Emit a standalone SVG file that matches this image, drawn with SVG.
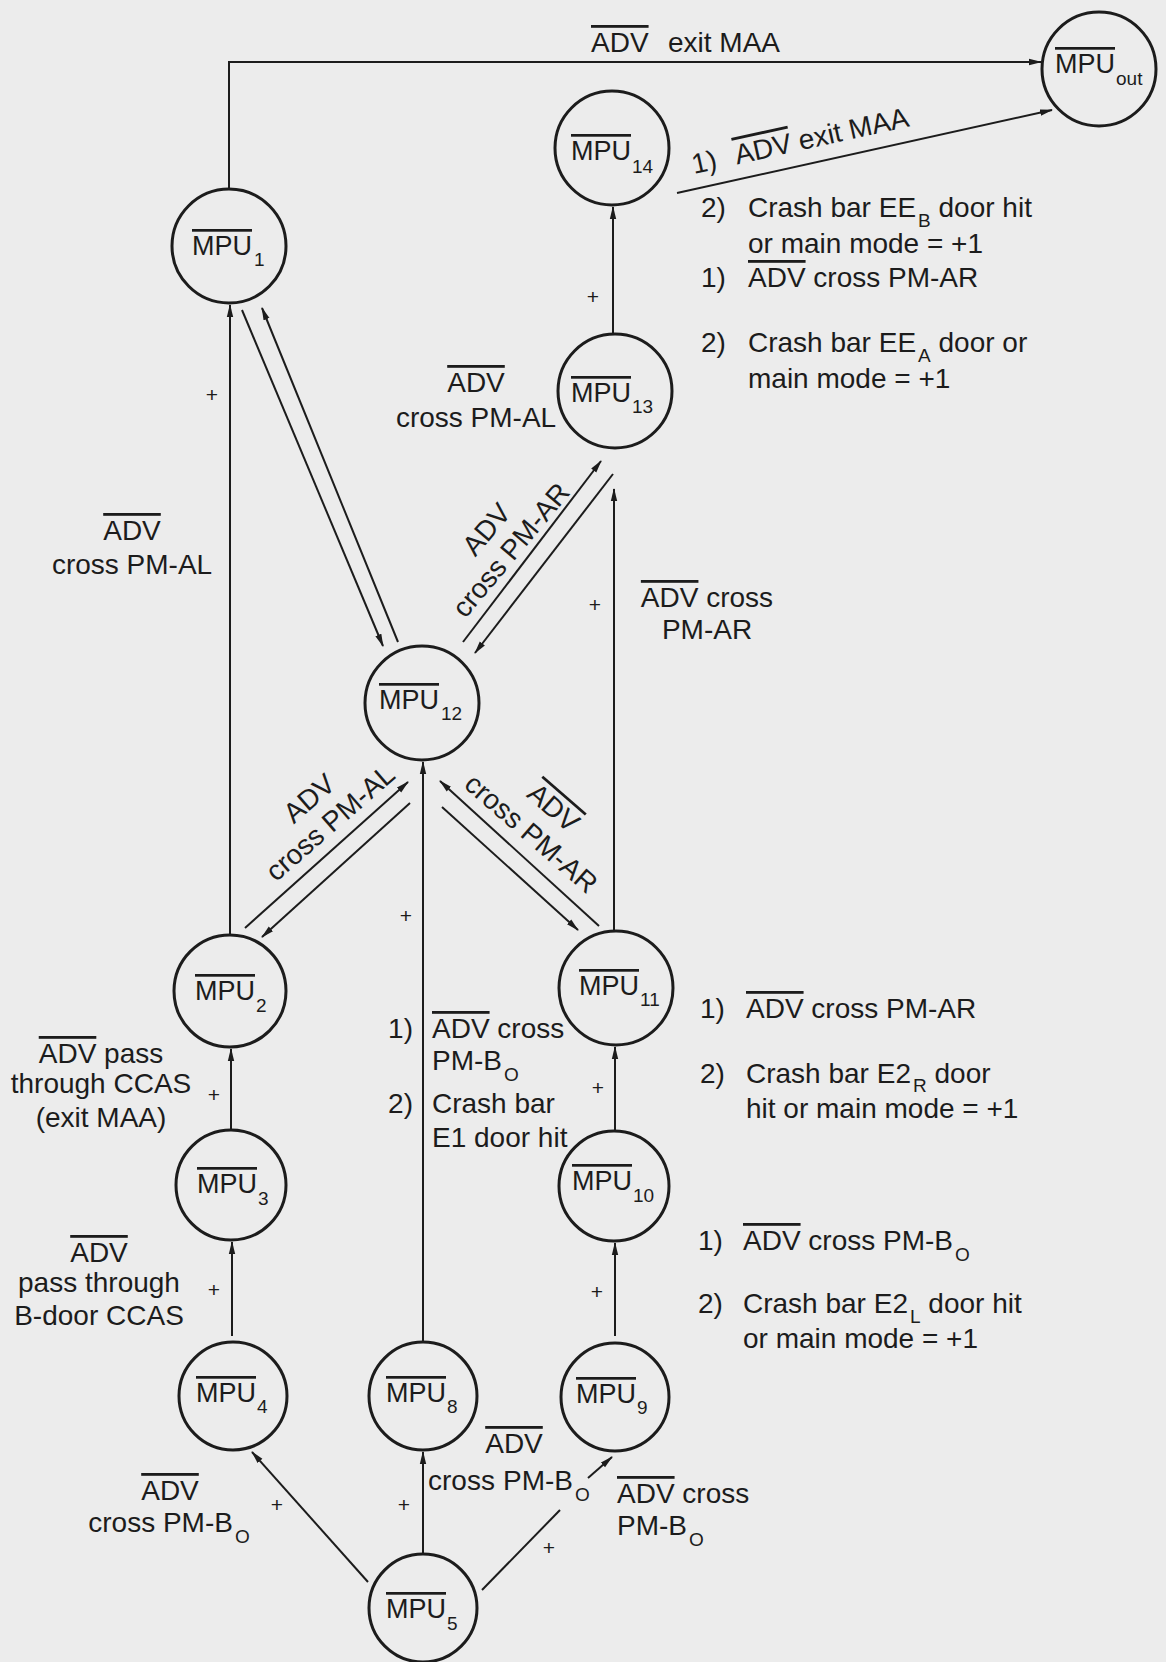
<svg xmlns="http://www.w3.org/2000/svg" width="1166" height="1662" viewBox="0 0 1166 1662">
<defs>
<style>
.bg{fill:#ececec}
.node circle{fill:none;stroke:#1c1c1c;stroke-width:3}
#connectors path{fill:none;stroke:#1c1c1c;stroke-width:2}
text{font-family:"Liberation Sans",Arial,sans-serif;font-size:28px;fill:#1c1c1c}
.node text{font-size:27px}
.s{font-size:19px}
.node .s{font-size:19px}
.ob{text-decoration:overline}
.m{text-anchor:middle}
.e{text-anchor:end}
.p{font-size:21px;text-anchor:middle}
</style>
<marker id="ah" markerWidth="13" markerHeight="8" refX="12" refY="4" orient="auto" markerUnits="userSpaceOnUse">
<path d="M0,0.8 L13,4 L0,7.2 z" fill="#1c1c1c"/>
</marker>
</defs>
<rect class="bg" x="0" y="0" width="1166" height="1662"/>

<g id="connectors">
<path d="M229,189 V62 H1041" marker-end="url(#ah)"/>
<path d="M677,193 L1052,110" marker-end="url(#ah)"/>
<path d="M613,334 V207" marker-end="url(#ah)"/>
<path d="M230,935 V305" marker-end="url(#ah)"/>
<path d="M242,310 L383,646" marker-end="url(#ah)"/>
<path d="M398,642 L262,308" marker-end="url(#ah)"/>
<path d="M463,642 L601,461" marker-end="url(#ah)"/>
<path d="M613,474 L475,653" marker-end="url(#ah)"/>
<path d="M614,931 V489" marker-end="url(#ah)"/>
<path d="M245,928 L408,782" marker-end="url(#ah)"/>
<path d="M410,803 L262,937" marker-end="url(#ah)"/>
<path d="M423,1342 V762" marker-end="url(#ah)"/>
<path d="M599,926 L440,781" marker-end="url(#ah)"/>
<path d="M442,807 L578,930" marker-end="url(#ah)"/>
<path d="M231,1130 V1049" marker-end="url(#ah)"/>
<path d="M615,1131 V1047" marker-end="url(#ah)"/>
<path d="M232,1336 V1242" marker-end="url(#ah)"/>
<path d="M615,1336 V1243" marker-end="url(#ah)"/>
<path d="M368,1582 L252,1452" marker-end="url(#ah)"/>
<path d="M423,1554 V1452" marker-end="url(#ah)"/>
<path d="M482,1590 L560,1510"/>
<path d="M588,1478 L612,1457" marker-end="url(#ah)"/>
</g>

<g id="plus">
<text class="p" x="212" y="402">+</text>
<text class="p" x="593" y="304">+</text>
<text class="p" x="595" y="612">+</text>
<text class="p" x="406" y="923">+</text>
<text class="p" x="214" y="1102">+</text>
<text class="p" x="598" y="1095">+</text>
<text class="p" x="214" y="1297">+</text>
<text class="p" x="597" y="1299">+</text>
<text class="p" x="277" y="1512">+</text>
<text class="p" x="404" y="1512">+</text>
<text class="p" x="549" y="1555">+</text>
</g>

<g id="n-out" class="node"><circle cx="1099" cy="69" r="57"/><text x="1055" y="73"><tspan class="ob">MPU</tspan><tspan class="s" dx="1" dy="12">out</tspan></text></g>
<g id="n14" class="node"><circle cx="612" cy="148" r="57"/><text x="571" y="160"><tspan class="ob">MPU</tspan><tspan class="s" dx="1" dy="13">14</tspan></text></g>
<g id="n1" class="node"><circle cx="229" cy="246" r="57"/><text x="192" y="255"><tspan class="ob">MPU</tspan><tspan class="s" dx="2" dy="11">1</tspan></text></g>
<g id="n13" class="node"><circle cx="615" cy="391" r="57"/><text x="571" y="402"><tspan class="ob">MPU</tspan><tspan class="s" dx="1" dy="11">13</tspan></text></g>
<g id="n12" class="node"><circle cx="422" cy="703" r="57"/><text x="379" y="709"><tspan class="ob">MPU</tspan><tspan class="s" dx="2" dy="11">12</tspan></text></g>
<g id="n2" class="node"><circle cx="230" cy="991" r="56"/><text x="195" y="1000"><tspan class="ob">MPU</tspan><tspan class="s" dx="1" dy="12">2</tspan></text></g>
<g id="n11" class="node"><circle cx="616" cy="988" r="57"/><text x="579" y="995"><tspan class="ob">MPU</tspan><tspan class="s" dx="1" dy="11">11</tspan></text></g>
<g id="n3" class="node"><circle cx="231" cy="1185" r="55"/><text x="197" y="1193"><tspan class="ob">MPU</tspan><tspan class="s" dx="1" dy="12">3</tspan></text></g>
<g id="n10" class="node"><circle cx="614" cy="1186" r="55"/><text x="572" y="1190"><tspan class="ob">MPU</tspan><tspan class="s" dx="1" dy="12">10</tspan></text></g>
<g id="n4" class="node"><circle cx="233" cy="1396" r="54"/><text x="196" y="1402"><tspan class="ob">MPU</tspan><tspan class="s" dx="1" dy="11">4</tspan></text></g>
<g id="n8" class="node"><circle cx="423" cy="1396" r="54"/><text x="386" y="1402"><tspan class="ob">MPU</tspan><tspan class="s" dx="1" dy="11">8</tspan></text></g>
<g id="n9" class="node"><circle cx="615" cy="1397" r="54"/><text x="576" y="1403"><tspan class="ob">MPU</tspan><tspan class="s" dx="1" dy="11">9</tspan></text></g>
<g id="n5" class="node"><circle cx="423" cy="1608" r="54"/><text x="386" y="1618"><tspan class="ob">MPU</tspan><tspan class="s" dx="1" dy="12">5</tspan></text></g>

<g id="labels">
<text x="591" y="52"><tspan class="ob">ADV</tspan></text>
<text x="668" y="52">exit MAA</text>

<g transform="translate(694,174) rotate(-12.5)">
<text x="0" y="0">1)</text>
<text x="44" y="0"><tspan class="ob">ADV</tspan> exit MAA</text>
</g>

<text x="701" y="217">2)</text>
<text x="748" y="217">Crash bar EE<tspan class="s" dx="2" dy="10">B</tspan><tspan dy="-10"> door hit</tspan></text>
<text x="748" y="253">or main mode = +1</text>
<text x="701" y="287">1)</text>
<text x="748" y="287"><tspan class="ob">ADV</tspan> cross PM-AR</text>
<text x="701" y="352">2)</text>
<text x="748" y="352">Crash bar EE<tspan class="s" dx="2" dy="10">A</tspan><tspan dy="-10"> door or</tspan></text>
<text x="748" y="388">main mode = +1</text>

<text class="m" x="476" y="392"><tspan class="ob">ADV</tspan></text>
<text class="m" x="476" y="427">cross PM-AL</text>

<text class="m" x="132" y="540"><tspan class="ob">ADV</tspan></text>
<text class="m" x="132" y="574">cross PM-AL</text>

<g transform="translate(499,540) rotate(-50)">
<text class="m" x="0" y="-7">ADV</text>
<text class="m" x="0" y="25">cross PM-AR</text>
</g>

<text class="m" x="707" y="607"><tspan class="ob">ADV</tspan> cross</text>
<text class="m" x="707" y="639">PM-AR</text>

<g transform="translate(320,811) rotate(-41)">
<text class="m" x="0" y="-7">ADV</text>
<text class="m" x="0" y="25">cross PM-AL</text>
</g>

<g transform="translate(542,821) rotate(41)">
<text class="m" x="0" y="-8"><tspan class="ob">ADV</tspan></text>
<text class="m" x="0" y="26">cross PM-AR</text>
</g>

<text class="m" x="101" y="1063"><tspan class="ob">ADV</tspan> pass</text>
<text class="m" x="101" y="1093">through CCAS</text>
<text class="m" x="101" y="1127">(exit MAA)</text>

<text class="e" x="413" y="1038">1)</text>
<text x="432" y="1038"><tspan class="ob">ADV</tspan> cross</text>
<text x="432" y="1070">PM-B<tspan class="s" dx="2" dy="11">O</tspan></text>
<text class="e" x="413" y="1113">2)</text>
<text x="432" y="1113">Crash bar</text>
<text x="432" y="1147">E1 door hit</text>

<text x="700" y="1018">1)</text>
<text x="746" y="1018"><tspan class="ob">ADV</tspan> cross PM-AR</text>
<text x="700" y="1083">2)</text>
<text x="746" y="1083">Crash bar E2<tspan class="s" dx="2" dy="9">R</tspan><tspan dy="-9"> door</tspan></text>
<text x="746" y="1118">hit or main mode = +1</text>

<text class="m" x="99" y="1262"><tspan class="ob">ADV</tspan></text>
<text class="m" x="99" y="1292">pass through</text>
<text class="m" x="99" y="1325">B-door CCAS</text>

<text x="698" y="1250">1)</text>
<text x="743" y="1250"><tspan class="ob">ADV</tspan> cross PM-B<tspan class="s" dx="2" dy="11">O</tspan></text>
<text x="698" y="1313">2)</text>
<text x="743" y="1313">Crash bar E2<tspan class="s" dx="2" dy="10">L</tspan><tspan dy="-10"> door hit</tspan></text>
<text x="743" y="1348">or main mode = +1</text>

<text class="m" x="514" y="1453"><tspan class="ob">ADV</tspan></text>
<text x="428" y="1490">cross</text>
<text x="503" y="1490">PM-B<tspan class="s" dx="2" dy="11">O</tspan></text>

<text x="617" y="1503"><tspan class="ob">ADV</tspan> cross</text>
<text x="617" y="1535">PM-B<tspan class="s" dx="2" dy="11">O</tspan></text>

<text class="m" x="170" y="1500"><tspan class="ob">ADV</tspan></text>
<text class="m" x="169" y="1532">cross PM-B<tspan class="s" dx="2" dy="11">O</tspan></text>
</g>
</svg>
